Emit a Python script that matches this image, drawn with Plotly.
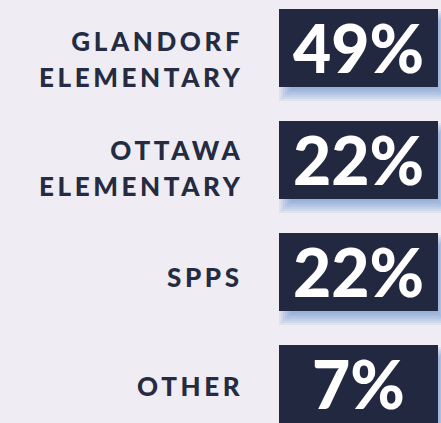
import plotly.graph_objects as go

# Data
schools = ["GLANDORF<br>ELEMENTARY", "OTTAWA<br>ELEMENTARY", "SPPS", "OTHER"]
shares = [49, 22, 22, 7]

BG = "#efedf3"
NAVY = "#222840"
INK = "#252b41"


def get_share_cards(schools, shares):
    """
    Share by school: dark cards with the percentage, label to the left
    """
    px_per_row = 112          # vertical pixels per category
    box_left, box_right = 279, 438
    box_h = 78 / px_per_row   # card height in category units
    pct_text = [f"{v}%" for v in shares]

    fig = go.Figure()

    # 1. Soft blue drop shadow (stacked translucent layers)
    shadow_dx, shadow_dy = 6, 8
    for grow in [-6, -4, -2, 0, 2, 4, 6]:
        fig.add_trace(go.Bar(
            y=schools,
            x=[box_right - box_left + 2 * grow] * len(schools),
            base=box_left + shadow_dx - grow,
            orientation="h",
            width=box_h + 2 * grow / px_per_row,
            offset=-box_h / 2 - grow / px_per_row + shadow_dy / px_per_row,
            marker=dict(color="rgba(75, 130, 200, 0.1)", line_width=0),
            hoverinfo="skip",
        ))

    # 2. Cards
    fig.add_trace(go.Bar(
        y=schools,
        x=[box_right - box_left] * len(schools),
        base=box_left,
        orientation="h",
        width=box_h,
        offset=-box_h / 2,
        marker=dict(color=NAVY, line_width=0),
        hoverinfo="skip",
    ))

    # 3. Percentages on the cards
    for name, pct in zip(schools, pct_text):
        fig.add_annotation(
            x=(box_left + box_right) / 2, y=name, xref="x", yref="y",
            xanchor="center", yanchor="middle", yshift=1,
            text=pct, showarrow=False,
            font=dict(family="Lato", size=66, color="white", weight=900),
        )

    # 4. School labels, right aligned
    label_shift = [-11, -8, -5, -2]
    for name, dy in zip(schools, label_shift):
        fig.add_annotation(
            x=245, y=name, xref="x", yref="y",
            xanchor="right", yanchor="middle", align="right",
            yshift=dy,
            text=f'<span style="font-size:26px;letter-spacing:3.6px">{name}</span>',
            showarrow=False,
            font=dict(family="Lato", size=28, color=INK, weight=900),
        )

    fig.update_layout(
        width=441, height=423,
        margin=dict(l=0, r=0, t=0, b=0),
        paper_bgcolor=BG, plot_bgcolor=BG,
        showlegend=False,
        barmode="overlay",
        xaxis=dict(range=[0, 441], visible=False, fixedrange=True),
        yaxis=dict(
            type="category",
            range=[3 + 39 / px_per_row, -48 / px_per_row],
            visible=False, fixedrange=True,
        ),
    )
    return fig


fig = get_share_cards(schools, shares)
fig.write_html(
    "out.html",
    config={"displayModeBar": False},
    post_script="document.body.style.margin='0';document.body.style.overflow='hidden';",
)
